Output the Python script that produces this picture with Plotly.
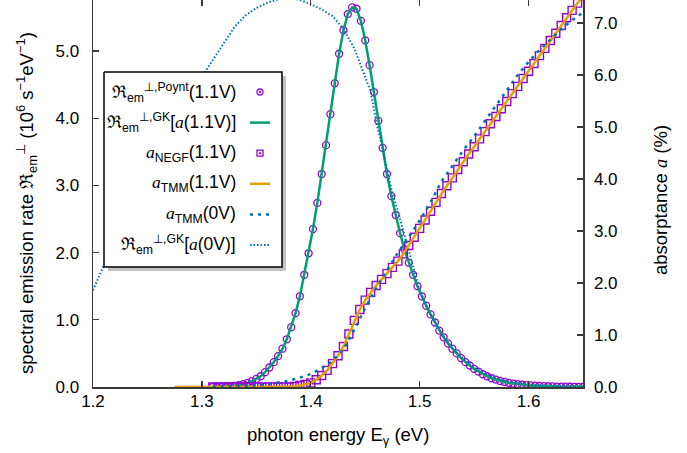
import numpy as np
import plotly.graph_objects as go

# ---------------- data ----------------
# emission-rate grid (marker spacing ~0.004 eV)
E_em = np.round(np.linspace(1.31, 1.65, 86), 3)
R_poynt_11 = [0.00, 0.002, 0.004, 0.007, 0.011, 0.018, 0.028, 0.042, 0.062, 0.088,
              0.12, 0.16, 0.22, 0.29, 0.37, 0.46, 0.57, 0.71, 0.89, 1.10,
              1.35, 1.67, 1.99, 2.35, 2.74, 3.17, 3.60, 4.06, 4.52, 4.96,
              5.31, 5.55, 5.65, 5.63, 5.45, 5.16, 4.79, 4.39, 3.96, 3.56,
              3.17, 2.84, 2.56, 2.29, 2.05, 1.85, 1.67, 1.50, 1.35, 1.21,
              1.08, 0.96, 0.84, 0.74, 0.65, 0.57, 0.50, 0.43, 0.37, 0.32,
              0.27, 0.23, 0.19, 0.16, 0.13, 0.11, 0.09, 0.075, 0.062, 0.051,
              0.042, 0.035, 0.029, 0.024, 0.020, 0.016, 0.013, 0.011, 0.009, 0.007,
              0.006, 0.005, 0.004, 0.003, 0.002, 0.002]
R_gk_11 = list(R_poynt_11)

# absorptance grid (0.005 eV)
E_abs = np.round(np.linspace(1.275, 1.65, 76), 3)
a_tmm_11 = [0.0] * 22 + [0.01, 0.03, 0.05, 0.08, 0.14, 0.22, 0.32, 0.45, 0.60, 0.78,
                         1.02, 1.28, 1.49, 1.67, 1.82, 1.95, 2.07, 2.18, 2.30, 2.42,
                         2.56, 2.72, 2.88, 3.05, 3.21, 3.38, 3.55, 3.72, 3.87, 4.02,
                         4.18, 4.33, 4.48, 4.62, 4.77, 4.91, 5.06, 5.20, 5.35, 5.49,
                         5.64, 5.78, 5.93, 6.07, 6.22, 6.37, 6.51, 6.66, 6.80, 6.95,
                         7.10, 7.24, 7.38, 7.52]
E_negf = np.round(np.linspace(1.31, 1.65, 69), 3)
a_negf_11 = [0.0] * 15 + [0.01, 0.03, 0.05, 0.08, 0.14, 0.22, 0.32, 0.45, 0.60, 0.78,
                          1.02, 1.28, 1.49, 1.67, 1.82, 1.95, 2.07, 2.18, 2.30, 2.42,
                          2.56, 2.72, 2.88, 3.05, 3.21, 3.38, 3.55, 3.72, 3.87, 4.02,
                          4.18, 4.33, 4.48, 4.62, 4.77, 4.91, 5.06, 5.20, 5.35, 5.49,
                          5.64, 5.78, 5.93, 6.07, 6.22, 6.37, 6.51, 6.66, 6.80, 6.95,
                          7.10, 7.24, 7.38, 7.52]

E_tmm0 = [1.31, 1.32, 1.33, 1.34, 1.35, 1.36, 1.37, 1.38, 1.39, 1.40,
          1.41, 1.42, 1.43, 1.44, 1.45, 1.46, 1.47, 1.48, 1.49, 1.50,
          1.51, 1.52, 1.53, 1.54, 1.55, 1.56, 1.57, 1.58, 1.59, 1.60,
          1.61, 1.62, 1.63, 1.64, 1.65]
a_tmm_0 = [0.0, 0.005, 0.01, 0.02, 0.03, 0.05, 0.08, 0.12, 0.18, 0.25,
           0.36, 0.50, 0.72, 1.10, 1.52, 1.90, 2.24, 2.58, 2.88, 3.20,
           3.55, 3.95, 4.25, 4.55, 4.82, 5.12, 5.42, 5.72, 6.00, 6.25,
           6.48, 6.68, 6.88, 7.05, 7.20]

E_gk0 = [1.20, 1.21, 1.22, 1.23, 1.24, 1.25, 1.26, 1.27, 1.28, 1.29,
         1.30, 1.31, 1.32, 1.33, 1.34, 1.35, 1.36, 1.37, 1.38, 1.39,
         1.40, 1.41, 1.42, 1.43, 1.44, 1.45, 1.455, 1.46, 1.465, 1.47,
         1.475, 1.48, 1.485, 1.49, 1.495, 1.50, 1.505, 1.51, 1.52, 1.53,
         1.54, 1.55, 1.56, 1.57, 1.58, 1.59, 1.60, 1.61, 1.62, 1.63,
         1.64, 1.65]
R_gk_0 = [1.44, 1.82, 2.18, 2.53, 2.87, 3.20, 3.51, 3.81, 4.10, 4.37,
          4.62, 4.85, 5.12, 5.36, 5.53, 5.64, 5.72, 5.77, 5.80, 5.76,
          5.70, 5.62, 5.52, 5.33, 5.04, 4.62, 4.40, 3.95, 3.62, 3.22,
          2.88, 2.62, 2.32, 2.00, 1.72, 1.44, 1.24, 1.08, 0.80, 0.58,
          0.42, 0.29, 0.20, 0.13, 0.085, 0.055, 0.035, 0.022, 0.014, 0.009,
          0.006, 0.004]

x_ticks = [1.2, 1.3, 1.4, 1.5, 1.6]
y_ticks = [0, 1, 2, 3, 4, 5]
y2_ticks = [0, 1, 2, 3, 4, 5, 6, 7]

IA = "<span style=\"font-family:'Liberation Serif'\"><i>a</i></span>"
legend_labels = [
    "ℜ<sub>em</sub><sup>⊥,Poynt</sup>(1.1V)",
    "ℜ<sub>em</sub><sup>⊥,GK</sup>[" + IA + "(1.1V)]",
    IA + "<sub>NEGF</sub>(1.1V)",
    IA + "<sub>TMM</sub>(1.1V)",
    IA + "<sub>TMM</sub>(0V)",
    "ℜ<sub>em</sub><sup>⊥,GK</sup>[" + IA + "(0V)]",
]

# ---------------- styling ----------------
FONT = "Liberation Sans, Arial, Helvetica, sans-serif"
AXC = "#3a3a3a"
PURPLE = "#9400d3"
GREEN = "#009e73"
ORANGE = "#e69f00"
BLUE = "#0072b2"

W, H = 687, 453
ML, MR, MT, MB = 93, 104, 0, 66
PW, PH = W - ML - MR, H - MT - MB


def fx(px):
    return (px - ML) / PW


def fy(py):
    return (MT + PH - py) / PH


fig = go.Figure()

fig.add_trace(go.Scatter(x=E_em, y=R_poynt_11, mode="markers",
                         marker=dict(symbol="circle-open", size=7, color=PURPLE,
                                     line=dict(width=1.3, color=PURPLE))))
fig.add_trace(go.Scatter(x=E_em, y=R_gk_11, mode="lines",
                         line=dict(color=GREEN, width=2.5)))
fig.add_trace(go.Scatter(x=E_negf, y=a_negf_11, mode="markers", yaxis="y2",
                         marker=dict(symbol="square-open", size=8, color=PURPLE,
                                     line=dict(width=1.4, color=PURPLE))))
fig.add_trace(go.Scatter(x=E_abs, y=a_tmm_11, mode="lines", yaxis="y2",
                         line=dict(color=ORANGE, width=2.5)))
fig.add_trace(go.Scatter(x=E_tmm0, y=a_tmm_0, mode="lines", yaxis="y2",
                         line=dict(color=BLUE, width=2.5, dash="3px,5px")))
fig.add_trace(go.Scatter(x=E_gk0, y=R_gk_0, mode="lines",
                         line=dict(color=BLUE, width=2, dash="1.5px,2px")))
# invisible helper so the top tick axis is drawn
fig.add_trace(go.Scatter(x=[1.2], y=[0], xaxis="x2", mode="markers",
                         marker=dict(opacity=0), hoverinfo="skip"))

# ---------------- legend (drawn as its own overlay) ----------------
bx0, bx1, by0, by1 = 104, 282, 72, 267
sh = 4
fig.add_trace(go.Scatter(x=[fx(bx0 + sh), fx(bx1 + sh), fx(bx1 + sh), fx(bx0 + sh), fx(bx0 + sh)],
                         y=[fy(by0 + sh), fy(by0 + sh), fy(by1 + sh), fy(by1 + sh), fy(by0 + sh)],
                         xaxis="x3", yaxis="y3", mode="lines", fill="toself",
                         fillcolor="#c4c4c4", line=dict(width=0), hoverinfo="skip"))
fig.add_trace(go.Scatter(x=[fx(bx0), fx(bx1), fx(bx1), fx(bx0), fx(bx0)],
                         y=[fy(by0), fy(by0), fy(by1), fy(by1), fy(by0)],
                         xaxis="x3", yaxis="y3", mode="lines", fill="toself",
                         fillcolor="white", line=dict(width=1.5, color="black"),
                         hoverinfo="skip"))

rows = [92, 122.6, 153.2, 183.8, 214.4, 245]
samples = [
    dict(kind="marker", symbol="circle-open-dot", color=PURPLE),
    dict(kind="line", color=GREEN, width=2.5, dash="solid"),
    dict(kind="marker", symbol="square-open-dot", color=PURPLE),
    dict(kind="line", color=ORANGE, width=2.5, dash="solid"),
    dict(kind="line", color=BLUE, width=2.5, dash="3px,5px"),
    dict(kind="line", color=BLUE, width=2, dash="1.5px,2px"),
]
for ry, s, lab in zip(rows, samples, legend_labels):
    if s["kind"] == "marker":
        fig.add_trace(go.Scatter(x=[fx(260)], y=[fy(ry)], xaxis="x3", yaxis="y3",
                                 mode="markers", hoverinfo="skip",
                                 marker=dict(symbol=s["symbol"], size=6, color=s["color"],
                                             line=dict(width=1.3, color=s["color"]))))
    else:
        fig.add_trace(go.Scatter(x=[fx(250), fx(270)], y=[fy(ry), fy(ry)],
                                 xaxis="x3", yaxis="y3", mode="lines", hoverinfo="skip",
                                 line=dict(color=s["color"], width=s["width"], dash=s["dash"])))
    fig.add_annotation(x=fx(238), y=fy(ry), xref="paper", yref="paper", text=lab,
                       showarrow=False, xanchor="right", yanchor="middle",
                       font=dict(family=FONT, size=17.5, color="black"))

# axis titles
TITLE_SIZE = 18.5
fig.add_annotation(x=fx(26), y=fy(203), xref="paper", yref="paper",
                   text="spectral emission rate ℜ<sub>em</sub><sup>⊥</sup> (10<sup>6</sup> s<sup>−1</sup>eV<sup>−1</sup>)",
                   textangle=-90, showarrow=False, xanchor="center", yanchor="middle",
                   font=dict(family=FONT, size=TITLE_SIZE, color="black"))
fig.add_annotation(x=fx(661), y=fy(200), xref="paper", yref="paper",
                   text="absorptance " + IA + " (%)",
                   textangle=-90, showarrow=False, xanchor="center", yanchor="middle",
                   font=dict(family=FONT, size=TITLE_SIZE, color="black"))
fig.add_annotation(x=fx(338), y=fy(436), xref="paper", yref="paper",
                   text="photon energy E<sub>γ</sub> (eV)",
                   showarrow=False, xanchor="center", yanchor="middle",
                   font=dict(family=FONT, size=TITLE_SIZE, color="black"))

axis_common = dict(showgrid=False, zeroline=False, ticks="inside", ticklen=6,
                   tickwidth=1.3, tickcolor=AXC, linecolor=AXC, linewidth=1.5,
                   automargin=False,
                   tickfont=dict(family=FONT, size=17, color="black"))

fig.update_layout(
    width=W, height=H,
    margin=dict(l=ML, r=MR, t=MT, b=MB, autoexpand=False),
    paper_bgcolor="white", plot_bgcolor="white",
    showlegend=False, hovermode=False,
    xaxis=dict(range=[1.2, 1.65], tickvals=x_ticks, tickformat=".1f",
               showline=True, mirror=False, ticklabelstandoff=-2, **axis_common),
    xaxis2=dict(range=[1.2, 1.65], tickvals=x_ticks, overlaying="x", side="top",
                anchor="y", showline=False, showticklabels=False, automargin=False,
                showgrid=False, zeroline=False, ticks="inside", ticklen=6,
                tickwidth=1.3, tickcolor=AXC),
    yaxis=dict(range=[0, 5.76], tickvals=y_ticks, tickformat=".1f",
               showline=True, ticklabelstandoff=9, **axis_common),
    yaxis2=dict(range=[0, 7.44], tickvals=y2_ticks, tickformat=".1f",
                overlaying="y", side="right", anchor="x",
                showline=True, ticklabelstandoff=6, **axis_common),
    xaxis3=dict(range=[0, 1], overlaying="x", anchor="y3", visible=False, automargin=False),
    yaxis3=dict(range=[0, 1], overlaying="y", anchor="x3", visible=False, automargin=False),
)

fig.write_html("out.html", config={"displayModeBar": False, "staticPlot": True},
               post_script="document.body.style.margin='0px';document.body.style.padding='0px';")
